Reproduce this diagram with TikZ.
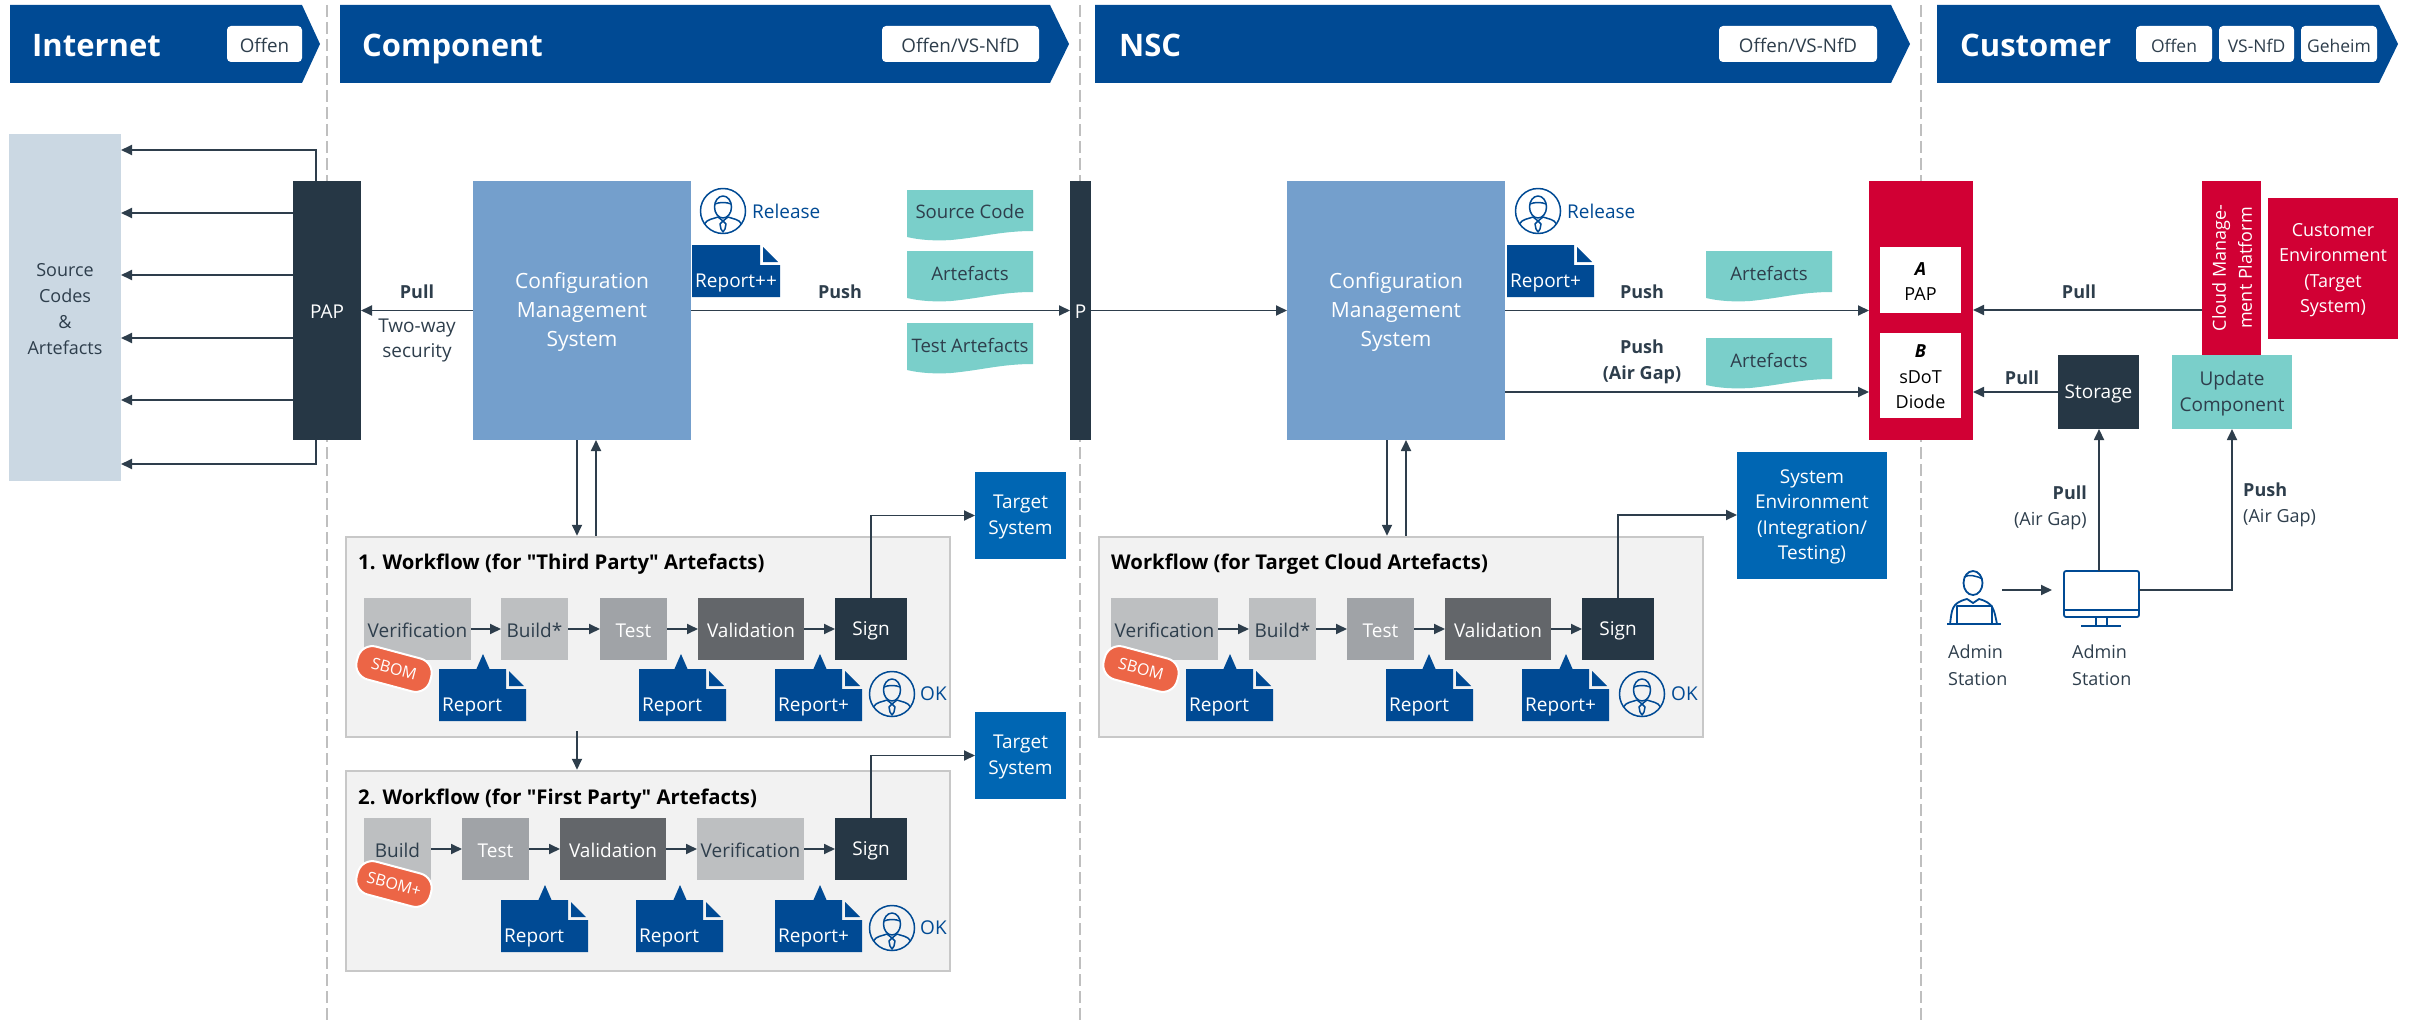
\documentclass[tikz,border=0pt]{standalone}
\usepackage{fontspec}
\setmainfont{Open Sans}
\newfontfamily\qf{Open Sans}
\usetikzlibrary{arrows.meta,calc}
\definecolor{hdrblue}{HTML}{004A94}
\definecolor{cmsblue}{HTML}{749FCC}
\definecolor{darkbox}{HTML}{263745}
\definecolor{tealc}{HTML}{7ACFCA}
\definecolor{redc}{HTML}{D10034}
\definecolor{targetblue}{HTML}{0066B3}
\definecolor{grayA}{HTML}{BDBFC1}
\definecolor{grayB}{HTML}{A0A3A7}
\definecolor{grayC}{HTML}{63666A}
\definecolor{sbomc}{HTML}{EC6546}
\definecolor{srcc}{HTML}{CBD8E3}
\definecolor{linec}{HTML}{2E3E4C}
\definecolor{dashc}{HTML}{BFBFBF}
\definecolor{wfbg}{HTML}{F2F2F2}
\definecolor{wfline}{HTML}{C8C8C8}
\tikzset{
 x=1pt,y=-1pt,
 base/.style={inner sep=0pt,outer sep=0pt,align=center,font=\fontsize{19}{25.5}\selectfont,text=white},
 bluebox/.style={base,fill=targetblue},
 cmsbox/.style={base,fill=cmsblue,font=\fontsize{21}{29}\selectfont},
 conn/.style={draw=linec,line width=1.8pt,-{Triangle[length=11pt,width=10pt]}},
 lab/.style={inner sep=0pt,align=center,text=linec,font=\fontsize{18.6}{26}\selectfont},
 blab/.style={inner sep=0pt,align=center,text=linec,font=\fontsize{18}{26}\selectfont\bfseries},
 badge/.style={base,fill=white,rounded corners=4pt,text=linec,font=\fontsize{18.8}{24}\selectfont},
 smallbadge/.style={badge,font=\fontsize{17.5}{24}\selectfont},
 hdrtitle/.style={inner sep=0pt,anchor=base west,text=white,font=\fontsize{31}{36}\selectfont\bfseries},
 wftitle/.style={inner sep=0pt,anchor=west,text=black,font=\fontsize{20.3}{26}\selectfont\bfseries},
 reptext/.style={inner sep=0pt,anchor=west,text=white,font=\fontsize{19}{24}\selectfont},
 bluetext/.style={inner sep=0pt,anchor=west,text=hdrblue,font=\fontsize{19}{24}\selectfont},
 icon/.style={draw=hdrblue,line width=1.5pt,line join=round},
}
% \bx{name}{x0}{y0}{x1}{y1}{style}{text}
\newcommand{\bx}[7]{%
 \pgfmathsetmacro{\bxw}{#4-#2}\pgfmathsetmacro{\bxh}{#5-#3}%
 \pgfmathsetmacro{\bxx}{(#2+#4)/2}\pgfmathsetmacro{\bxy}{(#3+#5)/2}%
 \node[#6,minimum width=\bxw pt,minimum height=\bxh pt] (#1) at (\bxx,\bxy) {};
 \node[#6,fill=none,draw=none] (#1t) at (\bxx,\bxy+1.5) {#7};}
% header: x0, shoulder, tip
\newcommand{\hdr}[3]{\fill[hdrblue] (#1,5)--(#2,5)--(#3,44)--(#2,83)--(#1,83)--cycle;}
% report document: name,x0,y0(top),w,text
\newcommand{\docshape}[5]{%
 \fill[hdrblue] (#2,#3)--({#2+#4-20},#3)--({#2+#4-20},{#3+20})--({#2+#4},{#3+20})--({#2+#4},{#3+52})--(#2,{#3+52})--cycle;
 \fill[hdrblue] ({#2+#4-17},{#3+2})--({#2+#4-2},{#3+17})--({#2+#4-17},{#3+17})--cycle;
 \node[reptext] (#1) at ({#2+3},{#3+38}) {#5};}
% report with callout tip: name,x0,y0,w,tipx,text
\newcommand{\rep}[6]{%
 \fill[hdrblue] ({#5-7},{#3+1})--(#5,{#3-15})--({#5+7},{#3+1})--cycle;
 \docshape{#1}{#2}{#3}{#4}{#6}}
% wavy doc: name,x0,y0,x1,text
\newcommand{\wavy}[5]{%
 \path[fill=tealc] (#2,#3)--(#4,#3)--(#4,{#3+41})
  .. controls ({#2+.75*(#4-#2)},{#3+41}) and ({#2+.6*(#4-#2)},{#3+47}) .. ({#2+.35*(#4-#2)},{#3+50})
  .. controls ({#2+.22*(#4-#2)},{#3+51}) and ({#2+.1*(#4-#2)},{#3+50}) .. (#2,{#3+47}) --cycle;
 \node[lab] (#1) at ({(#2+#4)/2},{#3+22}) {#5};}
% person in circle at x,y
\newcommand{\persona}[2]{%
 \begin{scope}[shift={(#1,#2)}]
 \draw[icon] (0,0) circle[radius=22.5pt];
 \draw[icon] (0,-4) ellipse[x radius=8.5pt,y radius=11pt];
 \draw[icon] (-8,-7) .. controls (-4,-9) and (4,-9) .. (8,-7);
 \draw[icon] (-18.5,13) .. controls (-16,8) and (-10,8) .. (-5,6) -- (0,10) -- (5,6) .. controls (10,8) and (16,8) .. (18.5,13);
 \draw[icon] (0,10) -- (-3,13) -- (-2,18) -- (0,21) -- (2,18) -- (3,13) -- cycle;
 \end{scope}}
% SBOM pill
\newcommand{\pill}[4]{%
 \node[fill=sbomc,draw=white,line width=2pt,rounded corners=15pt,rotate=-15,minimum width=76pt,minimum height=34pt,inner sep=0pt,text=white,font=\fontsize{16}{20}\selectfont] (#1) at (#2,#3) {#4};}
\begin{document}
\begin{tikzpicture}
\useasboundingbox (0,0) rectangle (2427,1022);
% dashed separators
\draw[dashc,line width=1.4pt,dash pattern=on 12pt off 5pt] (327,5)--(327,1022);
\draw[dashc,line width=1.4pt,dash pattern=on 12pt off 5pt] (1080,5)--(1080,1022);
\draw[dashc,line width=1.4pt,dash pattern=on 12pt off 5pt] (1921,5)--(1921,1022);
% headers
\hdr{10}{302}{320}\hdr{340}{1050}{1069}\hdr{1095}{1891}{1910}\hdr{1937}{2379}{2398}
\node[hdrtitle] (hi) at (32,57) {Internet};
\node[hdrtitle] (hc) at (362,57) {Component};
\node[hdrtitle] (hn) at (1119,57) {NSC};
\node[hdrtitle] (hu) at (1960,57) {Customer};
\bx{b1}{227}{26}{302}{62}{badge}{Offen}
\bx{b2}{882}{26}{1039}{62}{badge}{Offen/VS-NfD}
\bx{b3}{1719}{26}{1877}{62}{badge}{Offen/VS-NfD}
\bx{b4}{2136}{26}{2212}{62}{smallbadge}{Offen}
\bx{b5}{2219}{26}{2294}{62}{smallbadge}{VS-NfD}
\bx{b6}{2301}{26}{2377}{62}{smallbadge}{Geheim}
% internet
\bx{src}{9}{134}{121}{481}{base,fill=srcc,text=linec,font=\fontsize{18}{26}\selectfont}{Source\\Codes\\\&\\Artefacts}
\bx{pap}{293}{181}{361}{440}{base,fill=darkbox}{PAP}
\draw[conn] (316,0 |- pap.north) |- (src.east |- 0,150);
\foreach \yy in {213,275,338,400}{\draw[conn] (pap.west |- 0,\yy) -- (src.east |- 0,\yy);}
\draw[conn] (316,0 |- pap.south) |- (src.east |- 0,464);
% component
\bx{cms}{473}{181}{691}{440}{cmsbox}{Configuration\\Management\\System}
\bx{p}{1070}{181}{1091}{440}{base,fill=darkbox}{P}
\draw[conn] (cms.west) -- (pap.east);
\node[blab] (pull1) at (417,292) {Pull};
\node[lab,font=\fontsize{19}{25}\selectfont] (tw) at (417,340) {Two-way\\security};
\draw[conn] (cms.east) -- (p.west);
\node[blab] (push1) at (840,292) {Push};
\persona{723}{211}
\node[bluetext] (rel1) at (752,211) {Release};
\docshape{rp1}{692}{245}{88}{Report++}
\wavy{sc}{907}{190}{1033}{Source Code}
\wavy{ar}{907}{251}{1033}{Artefacts}
\wavy{ta}{907}{323}{1033}{Test Artefacts}
% workflow 1
\bx{wf1}{346}{537}{950}{737}{draw=wfline,line width=2.5pt,fill=wfbg,inner sep=0pt}{}
\node[wftitle] (wt1) at (358,564) {1. Workflow (for {\qf"}Third Party{\qf"} Artefacts)};
\bx{v1}{364}{598}{471}{660}{base,fill=grayA,text=linec}{Verification}
\bx{bd1}{501}{598}{568}{660}{base,fill=grayA,text=linec}{Build*}
\bx{t1}{600}{598}{667}{660}{base,fill=grayB}{Test}
\bx{va1}{698}{598}{804}{660}{base,fill=grayC}{Validation}
\bx{s1}{835}{598}{907}{660}{base,fill=darkbox}{Sign}
\foreach \a/\b in {v1/bd1,bd1/t1,t1/va1,va1/s1}{\draw[conn] (\a.east) -- (\b.west);}
\pill{sb1}{394}{669}{SBOM}
\rep{r11}{439}{669}{87}{483}{Report}
\rep{r12}{639}{669}{87}{681}{Report}
\rep{r13}{775}{669}{87}{820}{Report+}
\persona{892}{694}
\node[bluetext] (ok1) at (920,694) {OK};
\bx{ts1}{975}{472}{1066}{559}{bluebox}{Target\\System}
\draw[conn] (s1.north) |- (ts1.west);
\draw[conn] (577,0 |- cms.south) -- (577,0 |- wf1.north);
\draw[conn] (596,0 |- wf1.north) -- (596,0 |- cms.south);
% workflow 2
\bx{wf2}{346}{771}{950}{971}{draw=wfline,line width=2.5pt,fill=wfbg,inner sep=0pt}{}
\node[wftitle] (wt2) at (358,799) {2. Workflow (for {\qf"}First Party{\qf"} Artefacts)};
\bx{bd2}{364}{818}{431}{880}{base,fill=grayA,text=linec}{Build}
\bx{t2}{462}{818}{529}{880}{base,fill=grayB}{Test}
\bx{va2}{560}{818}{666}{880}{base,fill=grayC}{Validation}
\bx{v2}{697}{818}{804}{880}{base,fill=grayA,text=linec}{Verification}
\bx{s2}{835}{818}{907}{880}{base,fill=darkbox}{Sign}
\foreach \a/\b in {bd2/t2,t2/va2,va2/v2,v2/s2}{\draw[conn] (\a.east) -- (\b.west);}
\pill{sb2}{394}{884}{SBOM+}
\rep{r21}{501}{900}{87}{545}{Report}
\rep{r22}{636}{900}{87}{680}{Report}
\rep{r23}{775}{900}{87}{820}{Report+}
\persona{892}{928}
\node[bluetext] (ok2) at (920,928) {OK};
\bx{ts2}{975}{712}{1066}{799}{bluebox}{Target\\System}
\draw[conn] (s2.north) |- (ts2.west);
\coordinate (wf1out) at (577,731);
\draw[conn] (wf1out) -- (wf1out |- wf2.north);
% NSC
\bx{ncms}{1287}{181}{1505}{440}{cmsbox}{Configuration\\Management\\System}
\draw[conn] (p.east) -- (ncms.west);
\persona{1538}{211}
\node[bluetext] (rel2) at (1567,211) {Release};
\docshape{rp2}{1507}{245}{87}{Report+}
\bx{red}{1869}{181}{1973}{440}{base,fill=redc}{}
\draw[conn] (ncms.east) -- (red.west);
\draw[conn] (ncms.east |- 0,392) -- (red.west |- 0,392);
\node[blab] (push2) at (1642,292) {Push};
\node[blab] (push3) at (1642,362) {Push\\(Air Gap)};
\wavy{a2}{1706}{251}{1832}{Artefacts}
\wavy{a3}{1706}{338}{1832}{Artefacts}
\bx{wf3}{1099}{537}{1703}{737}{draw=wfline,line width=2.5pt,fill=wfbg,inner sep=0pt}{}
\node[wftitle] (wt3) at (1111,564) {Workflow (for Target Cloud Artefacts)};
\bx{v3}{1111}{598}{1218}{660}{base,fill=grayA,text=linec}{Verification}
\bx{bd3}{1249}{598}{1316}{660}{base,fill=grayA,text=linec}{Build*}
\bx{t3}{1347}{598}{1414}{660}{base,fill=grayB}{Test}
\bx{va3}{1445}{598}{1551}{660}{base,fill=grayC}{Validation}
\bx{s3}{1582}{598}{1654}{660}{base,fill=darkbox}{Sign}
\foreach \a/\b in {v3/bd3,bd3/t3,t3/va3,va3/s3}{\draw[conn] (\a.east) -- (\b.west);}
\pill{sb3}{1141}{669}{SBOM}
\rep{r31}{1186}{669}{87}{1230}{Report}
\rep{r32}{1386}{669}{87}{1429}{Report}
\rep{r33}{1522}{669}{87}{1566}{Report+}
\persona{1642}{694}
\node[bluetext] (ok3) at (1671,694) {OK};
\bx{se}{1737}{452}{1887}{579}{bluebox}{System\\Environment\\(Integration/\\Testing)}
\draw[conn] (s3.north) |- (se.west |- 0,515);
\draw[conn] (1387,0 |- ncms.south) -- (1387,0 |- wf3.north);
\draw[conn] (1406,0 |- wf3.north) -- (1406,0 |- ncms.south);
% customer
\bx{apap}{1880}{247}{1961}{313}{base,fill=white,text=black,font=\fontsize{18}{25.5}\selectfont}{\textbf{\textit{A}}\\PAP}
\bx{bdio}{1880}{333}{1961}{418}{base,fill=white,text=black,font=\fontsize{18}{25.5}\selectfont}{\textbf{\textit{B}}\\sDoT\\Diode}
\bx{cloud}{2202}{181}{2261}{356}{base,fill=redc}{}
\node[inner sep=0pt,rotate=90,align=center,text=white,font=\fontsize{18}{26}\selectfont] (cloudt) at (2232,268) {Cloud Manage-\\ment Platform};
\bx{cenv}{2268}{198}{2398}{339}{base,fill=redc,font=\fontsize{18}{25.5}\selectfont}{Customer\\Environment\\(Target\\System)}
\draw[conn] (cloud.west |- 0,310) -- (red.east |- 0,310);
\node[blab] (pull2) at (2079,292) {Pull};
\bx{stor}{2058}{355}{2139}{429}{base,fill=darkbox}{Storage}
\bx{upd}{2172}{355}{2292}{429}{base,fill=tealc,text=linec}{Update\\Component}
\draw[conn] (stor.west) -- (red.east |- stor.west);
\node[blab] (pull3) at (2022,378) {Pull};
% monitor
\coordinate (montop) at (2099,571);
\coordinate (monright) at (2139,590);
\coordinate (monleft) at (2052,590);
\coordinate (admin) at (2002,590);
\draw[icon,line width=1.8pt,rounded corners=2pt] (2064,571) rectangle (2139,617);
\draw[icon,line width=1.8pt] (2064,610) -- (2139,610);
\draw[icon] (2096,617) -- (2096,626) (2107,617) -- (2107,626);
\draw[icon,line width=1.8pt] (2081,626) -- (2121,626);
% admin person
\draw[icon,line width=1.8pt] (1973,583) ellipse[x radius=9.5pt,y radius=12pt];
\draw[icon] (1964,577) .. controls (1968,574) and (1978,576) .. (1982,579);
\draw[icon,line width=1.8pt] (1950,624) .. controls (1952,610) and (1951,603) .. (1967,599) -- (1973,603) -- (1979,599) .. controls (1994,603) and (1994,610) .. (1997,624);
\draw[icon,line width=1.8pt] (1957,624) -- (1957,606) -- (1992,606) -- (1992,624);
\draw[icon,line width=1.8pt] (1947,624) -- (2001,624);
\draw[conn] (admin) -- (monleft);
\draw[conn] (montop) -- (montop |- stor.south);
\draw[conn] (monright) -| (upd.south);
\node[inner sep=0pt,align=right,anchor=east,text=linec,font=\fontsize{18}{26}\selectfont] (pg) at (2087,508) {\textbf{Pull}\\(Air Gap)};
\node[inner sep=0pt,align=left,anchor=west,text=linec,font=\fontsize{18}{26}\selectfont] (pgg) at (2243,505) {\textbf{Push}\\(Air Gap)};
\node[inner sep=0pt,align=left,anchor=west,text=linec,font=\fontsize{18}{26.5}\selectfont] (ad1) at (1948,665) {Admin\\Station};
\node[inner sep=0pt,align=left,anchor=west,text=linec,font=\fontsize{18}{26.5}\selectfont] (ad2) at (2072,665) {Admin\\Station};
\end{tikzpicture}
\end{document}
